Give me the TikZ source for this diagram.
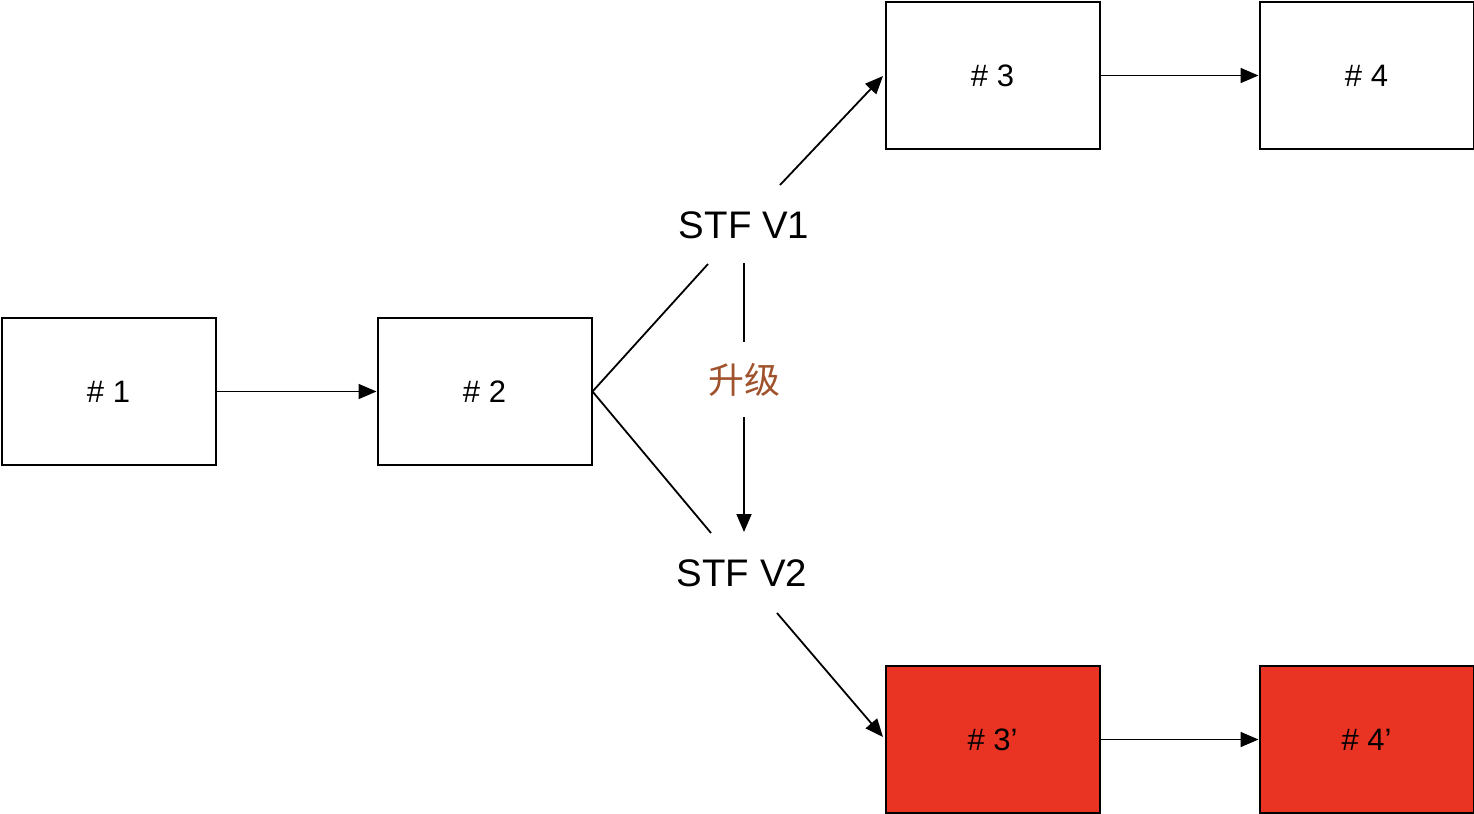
\documentclass[tikz,border=0pt]{standalone}
\usepackage{fontspec}
\setmainfont{Liberation Sans}
\newfontfamily\cjk{Noto Sans CJK SC}
\usetikzlibrary{arrows.meta}
\definecolor{boxred}{HTML}{E93323}
\definecolor{upg}{HTML}{A0522D}
\begin{document}
\begin{tikzpicture}[x=0.5pt,y=-0.5pt,
  blk/.style={draw=black,line width=1pt,minimum width=107pt,minimum height=73.5pt,inner sep=0pt,font=\fontsize{15.5}{18}\selectfont,anchor=north west},
  redblk/.style={blk,fill=boxred},
  lbl/.style={inner sep=0pt,font=\fontsize{19.2}{23}\selectfont},
  conn/.style={line width=0.9pt,draw=black},
  arr/.style={conn,-{Triangle[length=9pt,width=7.5pt]}}]
\useasboundingbox (0,0) rectangle (1474,814);
\node[blk] (b1) at (0.5,317) {\# 1};
\node[blk] (b2) at (376.5,317) {\# 2};
\node[blk] (b3) at (884.5,1) {\# 3};
\node[blk] (b4) at (1258.5,1) {\# 4};
\node[redblk] (b3p) at (884.5,665) {\# 3’};
\node[redblk] (b4p) at (1258.5,665) {\# 4’};
\node[lbl] (v1) at (744,225) {STF V1};
\node[lbl] (v2) at (742,573) {STF V2};
\node[inner sep=0pt,text=upg,font=\cjk\fontsize{18}{21}\selectfont] (up) at (744,380) {升级};
\coordinate (v1sw) at (708,264);
\coordinate (v1ne) at (780,185);
\coordinate (v1s) at (744,263);
\coordinate (upn) at (744,342);
\coordinate (ups) at (744,417);
\coordinate (v2n) at (744,532);
\coordinate (v2nw) at (711,533);
\coordinate (v2se) at (777,613);
\coordinate (b3w) at (883,76);
\coordinate (b3pw) at (883,737);
\draw[arr] (b1.east) -- (b2.west);
\draw[conn] (b2.east) -- (v1sw);
\draw[conn] (b2.east) -- (v2nw);
\draw[arr] (v1ne) -- (b3w);
\draw[arr] (v2se) -- (b3pw);
\draw[conn] (v1s) -- (upn);
\draw[arr] (ups) -- (v2n);
\draw[arr] (b3.east) -- (b4.west);
\draw[arr] (b3p.east) -- (b4p.west);
\end{tikzpicture}
\end{document}
